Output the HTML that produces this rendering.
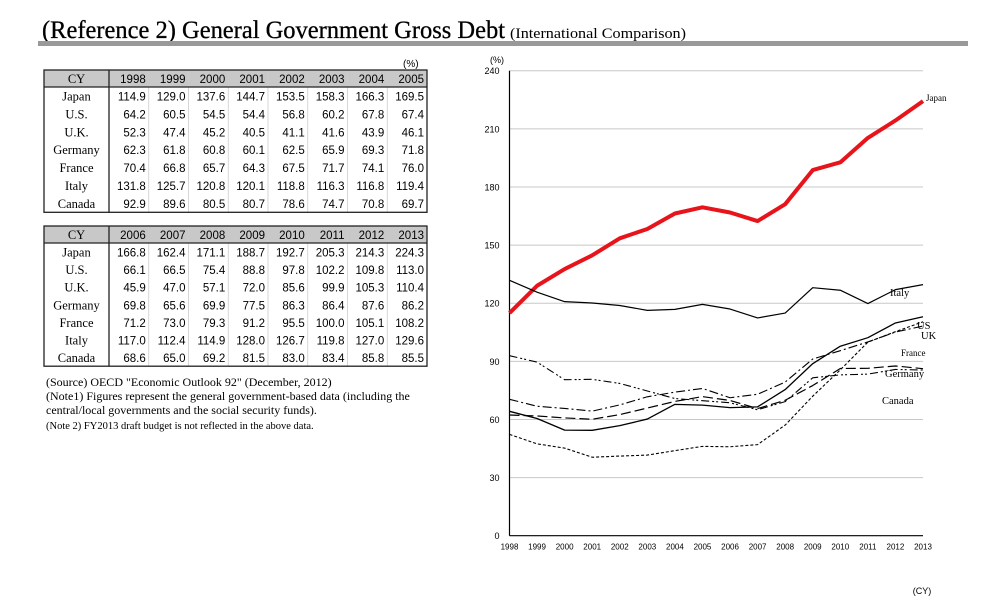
<!DOCTYPE html>
<html><head><meta charset="utf-8"><style>
body{margin:0;background:#fff;}
svg{display:block;font-family:"Liberation Serif",serif;}
.n{font-family:"Liberation Sans",sans-serif;}
.t{font-size:12px;}
</style></head><body>
<svg id="s" width="1003" height="611" viewBox="0 0 1003 611">
<text x="42" y="38" font-size="25" textLength="463" lengthAdjust="spacingAndGlyphs" stroke="#000" stroke-width="0.3">(Reference 2) General Government Gross Debt</text>
<text x="510" y="38" font-size="15" textLength="176" lengthAdjust="spacingAndGlyphs">(International Comparison)</text>
<rect x="38" y="41" width="930" height="5" fill="#999"/>
<g id="tables"></g>
<g class="t">
<text x="46" y="386">(Source) OECD "Economic Outlook 92" (December, 2012)</text>
<text x="46" y="400">(Note1) Figures represent the general government-based data (including the</text>
<text x="46" y="414">central/local governments and the social security funds).</text>
<text x="46" y="429" style="font-size:10.5px">(Note 2) FY2013 draft budget is not reflected in the above data.</text>
</g>
<text x="403" y="67" class="n" style="font-size:10px">(%)</text>
<g id="chart"></g>
</svg>
<script>
const years=[1998,1999,2000,2001,2002,2003,2004,2005,2006,2007,2008,2009,2010,2011,2012,2013];
const countries=["Japan","U.S.","U.K.","Germany","France","Italy","Canada"];
const japan=[114.9,129.0,137.6,144.7,153.5,158.3,166.3,169.5,166.8,162.4,171.1,188.7,192.7,205.3,214.3,224.3];
const us=[64.2,60.5,54.5,54.4,56.8,60.2,67.8,67.4,66.1,66.5,75.4,88.8,97.8,102.2,109.8,113.0];
const uk=[52.3,47.4,45.2,40.5,41.1,41.6,43.9,46.1,45.9,47.0,57.1,72.0,85.6,99.9,105.3,110.4];
const germany=[62.3,61.8,60.8,60.1,62.5,65.9,69.3,71.8,69.8,65.6,69.9,77.5,86.3,86.4,87.6,86.2];
const france=[70.4,66.8,65.7,64.3,67.5,71.7,74.1,76.0,71.2,73.0,79.3,91.2,95.5,100.0,105.1,108.2];
const italy=[131.8,125.7,120.8,120.1,118.8,116.3,116.8,119.4,117.0,112.4,114.9,128.0,126.7,119.8,127.0,129.6];
const canada=[92.9,89.6,80.5,80.7,78.6,74.7,70.8,69.7,68.6,65.0,69.2,81.5,83.0,83.4,85.8,85.5];
const yTicks=[0,30,60,90,120,150,180,210,240];
const series=[japan,us,uk,germany,france,italy,canada];
const NS="http://www.w3.org/2000/svg";
function mk(tag,attrs,parent,txt){const e=document.createElementNS(NS,tag);for(const k in attrs)e.setAttribute(k,attrs[k]);if(txt!=null)e.textContent=txt;parent.appendChild(e);return e;}
const tg=document.getElementById('tables');
function table(top,start,name){
  const g=mk('g',{},tg);
  
  
  const L=44,R=427,cy=109,cw=(R-cy)/8,hh=17,rh=(name==='table-1998-2005'?17.9:17.6);
  const bottom=top+hh+7*rh;
  mk('rect',{x:L,y:top,width:R-L,height:hh,fill:'#c8c8c8'},g);
  for(let i=1;i<8;i++)mk('line',{x1:cy+cw*i,y1:top,x2:cy+cw*i,y2:bottom,stroke:'#ccc','stroke-width':0.8},g);
  mk('rect',{x:L,y:top,width:R-L,height:bottom-top,fill:'none',stroke:'#222','stroke-width':1.3},g);
  mk('line',{x1:L,y1:top+hh,x2:R,y2:top+hh,stroke:'#222','stroke-width':1.2},g);
  mk('line',{x1:cy,y1:top,x2:cy,y2:bottom,stroke:'#222','stroke-width':1.3},g);
  mk('text',{x:(L+cy)/2,y:top+13,'text-anchor':'middle',style:'font-size:12.5px'},g,'CY');
  for(let i=0;i<8;i++){
    const t=mk('text',{x:cy+cw*(i+1)-3,y:top+13,'text-anchor':'end',class:'n',style:'font-size:11.5px'},g,years[start+i]);
    
    
  }
  for(let r=0;r<7;r++){
    const yb=top+hh+rh*r+13.5;
    mk('text',{x:(L+cy)/2,y:yb,'text-anchor':'middle',style:'font-size:12.5px'},g,countries[r]);
    for(let i=0;i<8;i++){
      const c=mk('text',{x:cy+cw*(i+1)-3,y:yb,'text-anchor':'end',class:'n',style:'font-size:11.5px'},g,series[r][start+i].toFixed(1));
      
      
    }
  }
}
table(70,0,'table-1998-2005');
table(226,8,'table-2006-2013');
const cg=document.getElementById('chart');
const x0=509.5,x1=923,y0=535.7,y1=70.7;
const xs=i=>x0+(x1-x0)*i/(years.length-1);
const ys=v=>y0-(y0-y1)*v/240;
yTicks.forEach(v=>{
  if(v>0){const l=mk('line',{x1:x0,y1:ys(v),x2:x1,y2:ys(v),stroke:'#c8c8c8','stroke-width':1},cg);
  }
  const t=mk('text',{x:x0-10,y:ys(v)+3.5,'text-anchor':'end',class:'n',style:'font-size:9px'},cg,v);
  
  
});
mk('line',{x1:x0,y1:y1,x2:x0,y2:y0,stroke:'#000','stroke-width':1.2},cg);
mk('line',{x1:x0,y1:y0,x2:x1,y2:y0,stroke:'#000','stroke-width':1.2},cg);
const u=mk('text',{x:490,y:63,class:'n',style:'font-size:9px'},cg,'(%)');

years.forEach((yr,i)=>{
  const t=mk('text',{x:xs(i),y:y0+14,'text-anchor':'middle',class:'n',style:'font-size:8px'},cg,yr);
  
  
});
const cyl=mk('text',{x:922,y:594,'text-anchor':'middle',class:'n',style:'font-size:9px'},cg,'(CY)');

const styles=[
 {d:japan,c:'#e8141b',w:4,da:'',n:'line-japan'},
 {d:italy,c:'#000',w:1.2,da:'',n:'line-italy'},
 {d:us,c:'#000',w:1.3,da:'',n:'line-us'},
 {d:uk,c:'#000',w:1.1,da:'3 2',n:'line-uk'},
 {d:germany,c:'#000',w:1.2,da:'10 4',n:'line-germany'},
 {d:france,c:'#000',w:1.1,da:'9 3 2 3',n:'line-france'},
 {d:canada,c:'#000',w:1.1,da:'8 3 2 2 2 3',n:'line-canada'}];
styles.forEach(s=>{
  const p=mk('polyline',{points:s.d.map((v,i)=>xs(i)+','+ys(v)).join(' '),fill:'none',stroke:s.c,'stroke-width':s.w,'stroke-dasharray':s.da,'stroke-linejoin':'round'},cg);
  
  
});
const labs=[['Japan',926,101,9],['Italy',890,296,10.5],['US',917,329,10.5],['UK',921,339,10.5],['France',901,356,9],['Germany',885,377,10.5],['Canada',882,404,10.5]];
labs.forEach(l=>{
  const t=mk('text',{x:l[1],y:l[2],style:'font-size:'+l[3]+'px'},cg,l[0]);
  
  
});
</script>
</body></html>
